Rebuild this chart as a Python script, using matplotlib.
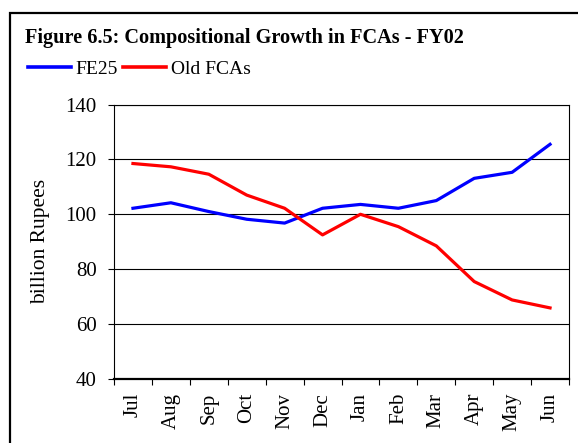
import numpy as np
import matplotlib.pyplot as plt
from matplotlib.patches import Rectangle

months = ['Jul', 'Aug', 'Sep', 'Oct', 'Nov', 'Dec', 'Jan', 'Feb', 'Mar', 'Apr', 'May', 'Jun']
fe25 = [102.2, 104.2, 101.0, 98.2, 96.8, 102.2, 103.6, 102.2, 105.0, 113.1, 115.3, 125.5]
old_fcas = [118.5, 117.3, 114.6, 107.0, 102.2, 92.5, 100.0, 95.5, 88.5, 75.5, 68.8, 65.9]

plt.rcParams['font.family'] = ['Liberation Serif', 'DejaVu Serif']

fig = plt.figure(figsize=(5.78, 4.43), dpi=100)
ax = fig.add_axes([114/578, 64/443, 455/578, 274.5/443])

x = np.arange(len(months))
l1, = ax.plot(x, fe25, color='#0000ff', linewidth=2.3, label='FE25')
l2, = ax.plot(x, old_fcas, color='#ff0000', linewidth=2.3, label='Old FCAs')

ax.set_xlim(-0.5, len(months) - 0.5)
ax.set_ylim(40, 140)
ax.set_yticks([40, 60, 80, 100, 120, 140])
ax.tick_params(axis='y', labelsize=15, length=4.5, width=0.8, pad=8)

# подписи месяцев по центру, засечки на границах
ax.set_xticks(x)
ax.set_xticklabels(months, rotation=90, fontsize=15)
ax.set_xticks(np.arange(-0.5, len(months)), minor=True)
ax.tick_params(axis='x', which='major', length=0, pad=10)
ax.tick_params(axis='x', which='minor', length=4, width=0.8)

ax.grid(axis='y', color='black', linewidth=0.8)
ax.set_axisbelow(True)
for s in ['top', 'right', 'left']:
    ax.spines[s].set_linewidth(0.8)
ax.spines['bottom'].set_linewidth(1.6)

ax.set_ylabel('billion Rupees', fontsize=15.5, labelpad=11)

fig.text(25/578, 1 - 38/443, 'Figure 6.5: Compositional Growth in FCAs - FY02',
         fontsize=14.6, fontweight='bold', va='center', ha='left')

fig.legend(handles=[l1, l2], loc='center left', bbox_to_anchor=(28/578, 1 - 69/443),
           ncol=2, frameon=False, fontsize=14, handlelength=2.2, handletextpad=0.25,
           columnspacing=0.25, borderaxespad=0, borderpad=0)
for ln in fig.legends[0].get_lines():
    ln.set_linewidth(2.6)

# рамка вокруг рисунка (обрезана справа и снизу)
fig.patches.append(Rectangle((10/578, -0.1), 1.2, 1 - 13/443 + 0.1,
                             transform=fig.transFigure, fill=False,
                             edgecolor='black', linewidth=1.6))

plt.savefig('out.png', dpi=100)
